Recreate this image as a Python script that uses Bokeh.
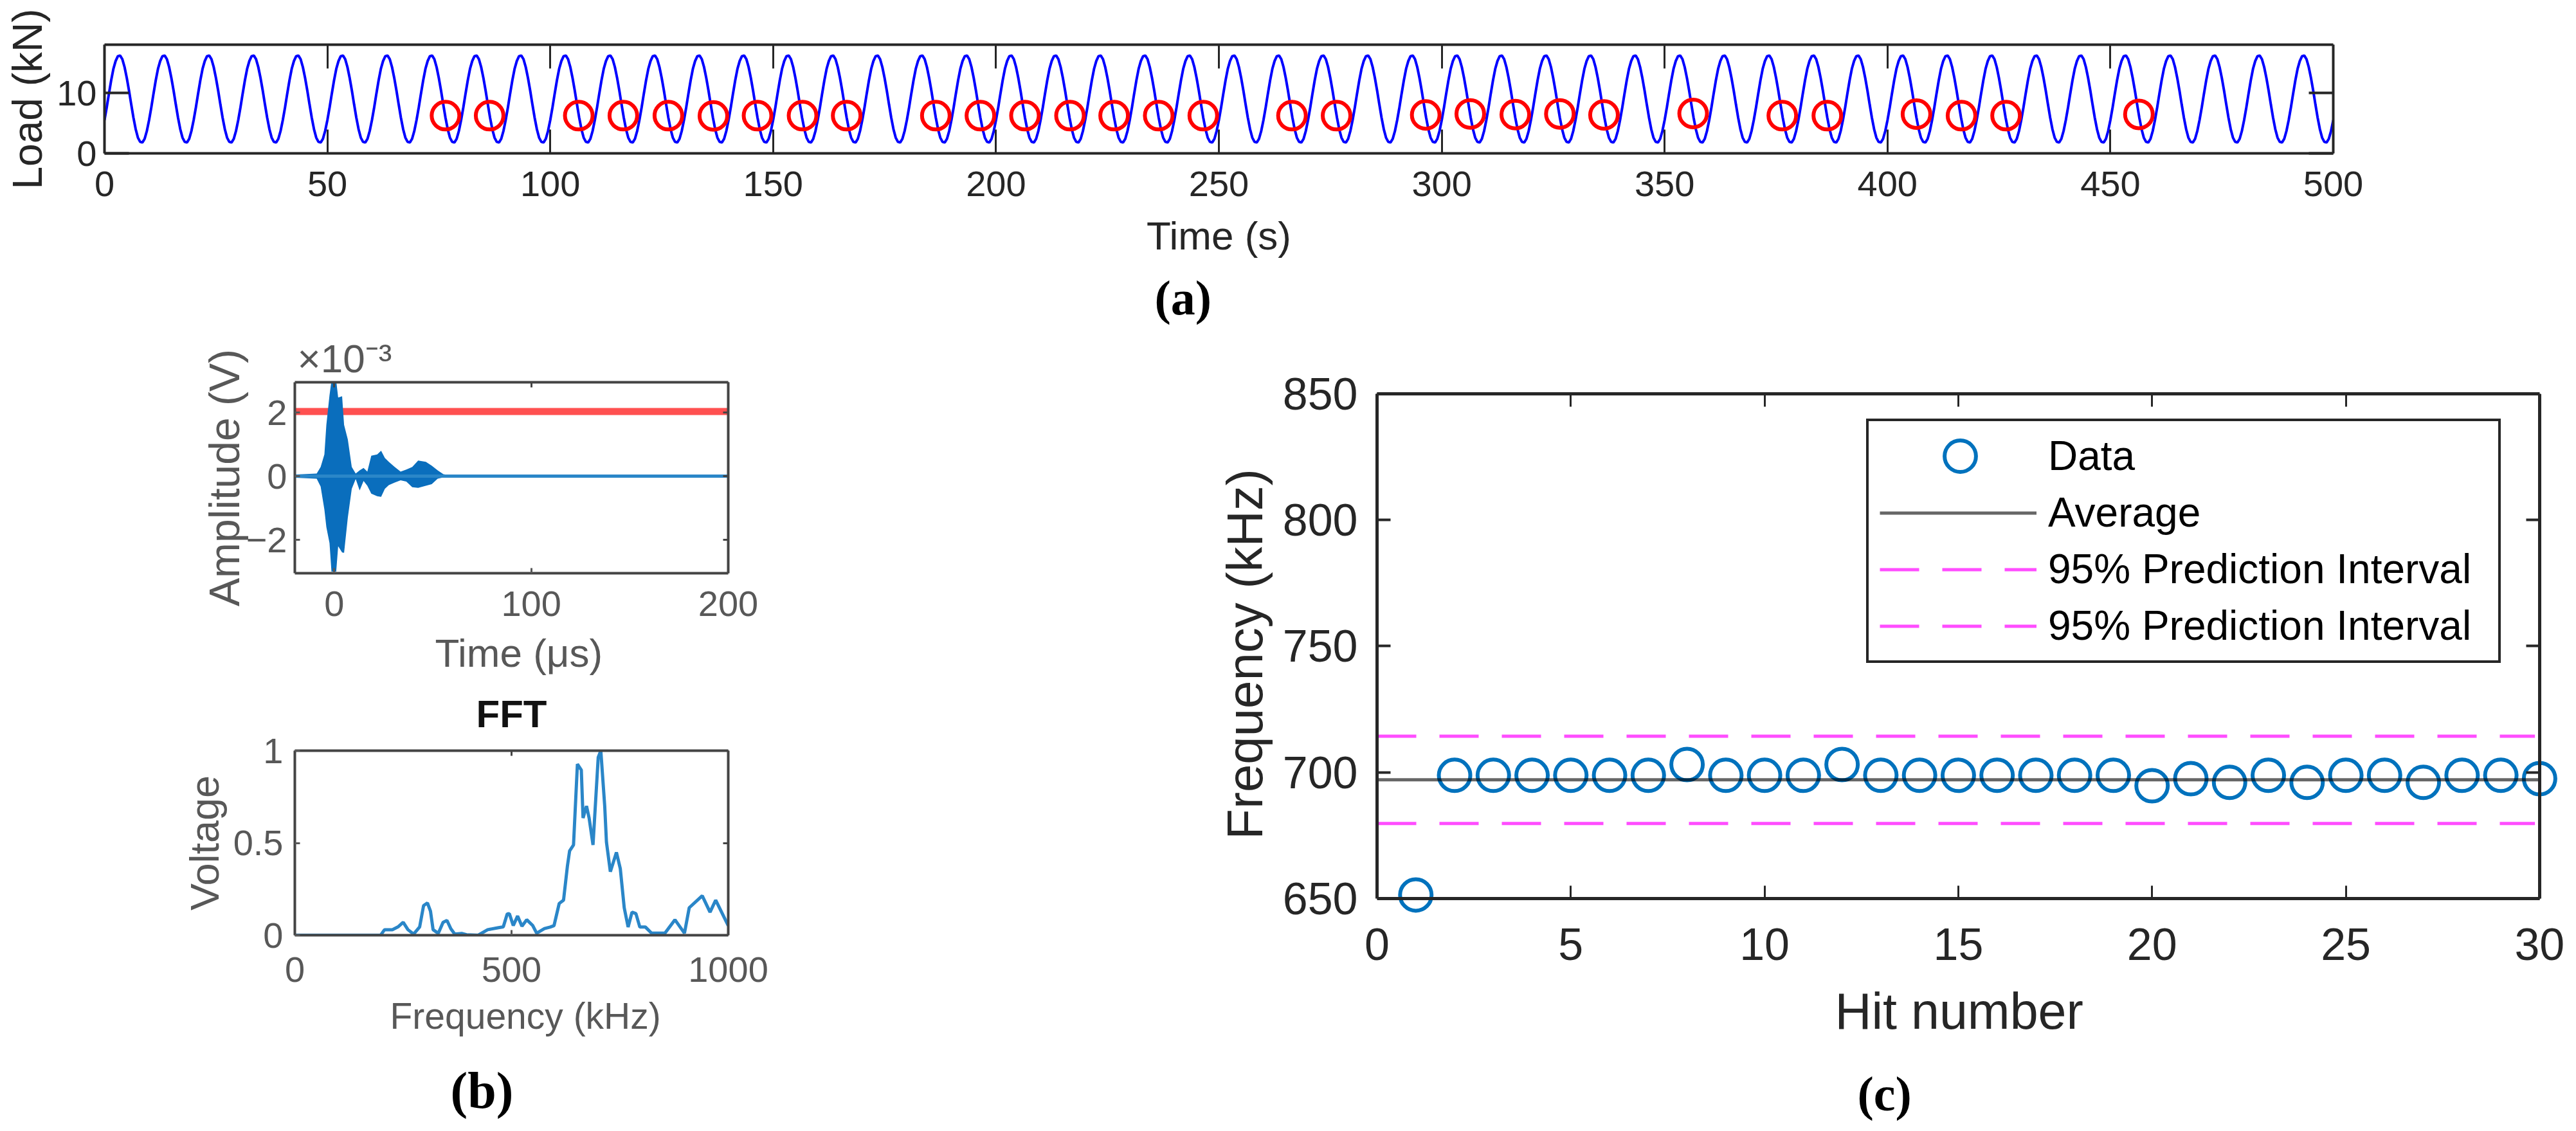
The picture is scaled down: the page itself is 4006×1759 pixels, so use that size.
from bokeh.plotting import figure
from bokeh.layouts import column, row
from bokeh.models import (Range1d, FixedTicker, LinearAxis, Legend, LegendItem, Title)
from bokeh.embed import file_html
from bokeh.resources import INLINE

# ---------- panel (a): load history ----------
LOAD_STEP_S = 0.5
load_kn = [
5.5,7.6,9.9,12.1,14.0,15.3,16.1,16.2,15.6,14.3,12.5,10.4,8.1,5.9,4.0,2.6,1.9,1.8,2.4,3.7,
5.5,7.6,9.9,12.1,14.0,15.3,16.1,16.2,15.6,14.3,12.5,10.4,8.1,5.9,4.0,2.6,1.9,1.8,2.4,3.7,
5.5,7.6,9.9,12.1,14.0,15.3,16.1,16.2,15.6,14.3,12.5,10.4,8.1,5.9,4.0,2.6,1.9,1.8,2.4,3.7,
5.5,7.6,9.9,12.1,14.0,15.3,16.1,16.2,15.6,14.3,12.5,10.4,8.1,5.9,4.0,2.6,1.9,1.8,2.4,3.7,
5.5,7.6,9.9,12.1,14.0,15.3,16.1,16.2,15.6,14.3,12.5,10.4,8.1,5.9,4.0,2.6,1.9,1.8,2.4,3.7,
5.5,7.6,9.9,12.1,14.0,15.3,16.1,16.2,15.6,14.3,12.5,10.4,8.1,5.9,4.0,2.6,1.9,1.8,2.4,3.7,
5.5,7.6,9.9,12.1,14.0,15.3,16.1,16.2,15.6,14.3,12.5,10.4,8.1,5.9,4.0,2.6,1.9,1.8,2.4,3.7,
5.5,7.6,9.9,12.1,14.0,15.3,16.1,16.2,15.6,14.3,12.5,10.4,8.1,5.9,4.0,2.6,1.9,1.8,2.4,3.7,
5.5,7.6,9.9,12.1,14.0,15.3,16.1,16.2,15.6,14.3,12.5,10.4,8.1,5.9,4.0,2.6,1.9,1.8,2.4,3.7,
5.5,7.6,9.9,12.1,14.0,15.3,16.1,16.2,15.6,14.3,12.5,10.4,8.1,5.9,4.0,2.6,1.9,1.8,2.4,3.7,
5.5,7.6,9.9,12.1,14.0,15.3,16.1,16.2,15.6,14.3,12.5,10.4,8.1,5.9,4.0,2.6,1.9,1.8,2.4,3.7,
5.5,7.6,9.9,12.1,14.0,15.3,16.1,16.2,15.6,14.3,12.5,10.4,8.1,5.9,4.0,2.6,1.9,1.8,2.4,3.7,
5.5,7.6,9.9,12.1,14.0,15.3,16.1,16.2,15.6,14.3,12.5,10.4,8.1,5.9,4.0,2.6,1.9,1.8,2.4,3.7,
5.5,7.6,9.9,12.1,14.0,15.3,16.1,16.2,15.6,14.3,12.5,10.4,8.1,5.9,4.0,2.6,1.9,1.8,2.4,3.7,
5.5,7.6,9.9,12.1,14.0,15.3,16.1,16.2,15.6,14.3,12.5,10.4,8.1,5.9,4.0,2.6,1.9,1.8,2.4,3.7,
5.5,7.6,9.9,12.1,14.0,15.3,16.1,16.2,15.6,14.3,12.5,10.4,8.1,5.9,4.0,2.6,1.9,1.8,2.4,3.7,
5.5,7.6,9.9,12.1,14.0,15.3,16.1,16.2,15.6,14.3,12.5,10.4,8.1,5.9,4.0,2.6,1.9,1.8,2.4,3.7,
5.5,7.6,9.9,12.1,14.0,15.3,16.1,16.2,15.6,14.3,12.5,10.4,8.1,5.9,4.0,2.6,1.9,1.8,2.4,3.7,
5.5,7.6,9.9,12.1,14.0,15.3,16.1,16.2,15.6,14.3,12.5,10.4,8.1,5.9,4.0,2.6,1.9,1.8,2.4,3.7,
5.5,7.6,9.9,12.1,14.0,15.3,16.1,16.2,15.6,14.3,12.5,10.4,8.1,5.9,4.0,2.6,1.9,1.8,2.4,3.7,
5.5,7.6,9.9,12.1,14.0,15.3,16.1,16.2,15.6,14.3,12.5,10.4,8.1,5.9,4.0,2.6,1.9,1.8,2.4,3.7,
5.5,7.6,9.9,12.1,14.0,15.3,16.1,16.2,15.6,14.3,12.5,10.4,8.1,5.9,4.0,2.6,1.9,1.8,2.4,3.7,
5.5,7.6,9.9,12.1,14.0,15.3,16.1,16.2,15.6,14.3,12.5,10.4,8.1,5.9,4.0,2.6,1.9,1.8,2.4,3.7,
5.5,7.6,9.9,12.1,14.0,15.3,16.1,16.2,15.6,14.3,12.5,10.4,8.1,5.9,4.0,2.6,1.9,1.8,2.4,3.7,
5.5,7.6,9.9,12.1,14.0,15.3,16.1,16.2,15.6,14.3,12.5,10.4,8.1,5.9,4.0,2.6,1.9,1.8,2.4,3.7,
5.5,7.6,9.9,12.1,14.0,15.3,16.1,16.2,15.6,14.3,12.5,10.4,8.1,5.9,4.0,2.6,1.9,1.8,2.4,3.7,
5.5,7.6,9.9,12.1,14.0,15.3,16.1,16.2,15.6,14.3,12.5,10.4,8.1,5.9,4.0,2.6,1.9,1.8,2.4,3.7,
5.5,7.6,9.9,12.1,14.0,15.3,16.1,16.2,15.6,14.3,12.5,10.4,8.1,5.9,4.0,2.6,1.9,1.8,2.4,3.7,
5.5,7.6,9.9,12.1,14.0,15.3,16.1,16.2,15.6,14.3,12.5,10.4,8.1,5.9,4.0,2.6,1.9,1.8,2.4,3.7,
5.5,7.6,9.9,12.1,14.0,15.3,16.1,16.2,15.6,14.3,12.5,10.4,8.1,5.9,4.0,2.6,1.9,1.8,2.4,3.7,
5.5,7.6,9.9,12.1,14.0,15.3,16.1,16.2,15.6,14.3,12.5,10.4,8.1,5.9,4.0,2.6,1.9,1.8,2.4,3.7,
5.5,7.6,9.9,12.1,14.0,15.3,16.1,16.2,15.6,14.3,12.5,10.4,8.1,5.9,4.0,2.6,1.9,1.8,2.4,3.7,
5.5,7.6,9.9,12.1,14.0,15.3,16.1,16.2,15.6,14.3,12.5,10.4,8.1,5.9,4.0,2.6,1.9,1.8,2.4,3.7,
5.5,7.6,9.9,12.1,14.0,15.3,16.1,16.2,15.6,14.3,12.5,10.4,8.1,5.9,4.0,2.6,1.9,1.8,2.4,3.7,
5.5,7.6,9.9,12.1,14.0,15.3,16.1,16.2,15.6,14.3,12.5,10.4,8.1,5.9,4.0,2.6,1.9,1.8,2.4,3.7,
5.5,7.6,9.9,12.1,14.0,15.3,16.1,16.2,15.6,14.3,12.5,10.4,8.1,5.9,4.0,2.6,1.9,1.8,2.4,3.7,
5.5,7.6,9.9,12.1,14.0,15.3,16.1,16.2,15.6,14.3,12.5,10.4,8.1,5.9,4.0,2.6,1.9,1.8,2.4,3.7,
5.5,7.6,9.9,12.1,14.0,15.3,16.1,16.2,15.6,14.3,12.5,10.4,8.1,5.9,4.0,2.6,1.9,1.8,2.4,3.7,
5.5,7.6,9.9,12.1,14.0,15.3,16.1,16.2,15.6,14.3,12.5,10.4,8.1,5.9,4.0,2.6,1.9,1.8,2.4,3.7,
5.5,7.6,9.9,12.1,14.0,15.3,16.1,16.2,15.6,14.3,12.5,10.4,8.1,5.9,4.0,2.6,1.9,1.8,2.4,3.7,
5.5,7.6,9.9,12.1,14.0,15.3,16.1,16.2,15.6,14.3,12.5,10.4,8.1,5.9,4.0,2.6,1.9,1.8,2.4,3.7,
5.5,7.6,9.9,12.1,14.0,15.3,16.1,16.2,15.6,14.3,12.5,10.4,8.1,5.9,4.0,2.6,1.9,1.8,2.4,3.7,
5.5,7.6,9.9,12.1,14.0,15.3,16.1,16.2,15.6,14.3,12.5,10.4,8.1,5.9,4.0,2.6,1.9,1.8,2.4,3.7,
5.5,7.6,9.9,12.1,14.0,15.3,16.1,16.2,15.6,14.3,12.5,10.4,8.1,5.9,4.0,2.6,1.9,1.8,2.4,3.7,
5.5,7.6,9.9,12.1,14.0,15.3,16.1,16.2,15.6,14.3,12.5,10.4,8.1,5.9,4.0,2.6,1.9,1.8,2.4,3.7,
5.5,7.6,9.9,12.1,14.0,15.3,16.1,16.2,15.6,14.3,12.5,10.4,8.1,5.9,4.0,2.6,1.9,1.8,2.4,3.7,
5.5,7.6,9.9,12.1,14.0,15.3,16.1,16.2,15.6,14.3,12.5,10.4,8.1,5.9,4.0,2.6,1.9,1.8,2.4,3.7,
5.5,7.6,9.9,12.1,14.0,15.3,16.1,16.2,15.6,14.3,12.5,10.4,8.1,5.9,4.0,2.6,1.9,1.8,2.4,3.7,
5.5,7.6,9.9,12.1,14.0,15.3,16.1,16.2,15.6,14.3,12.5,10.4,8.1,5.9,4.0,2.6,1.9,1.8,2.4,3.7,
5.5,7.6,9.9,12.1,14.0,15.3,16.1,16.2,15.6,14.3,12.5,10.4,8.1,5.9,4.0,2.6,1.9,1.8,2.4,3.7,
5.5]
load_time = [i * LOAD_STEP_S for i in range(len(load_kn))]

hit_time = [76.5, 86.4, 106.4, 116.4, 126.5, 136.6, 146.5, 156.6, 166.5, 186.5, 196.5, 206.5,
            216.6, 226.5, 236.5, 246.5, 266.4, 276.4, 296.4, 306.4, 316.5, 326.5, 336.4,
            356.4, 376.4, 386.5, 406.5, 416.6, 426.6, 456.4]
hit_load = [6.25, 6.25, 6.25, 6.25, 6.25, 6.2, 6.25, 6.25, 6.25, 6.25, 6.25, 6.25,
            6.25, 6.25, 6.25, 6.25, 6.25, 6.25, 6.36, 6.53, 6.42, 6.53, 6.36,
            6.6, 6.25, 6.25, 6.5, 6.25, 6.25, 6.45]
a_xticks = [0, 50, 100, 150, 200, 250, 300, 350, 400, 450, 500]
a_yticks = [0, 10]

# ---------- panel (b), top: waveform envelope ----------
wave_t = [-19.8, -8.9, -6.9, -5, -4, -2.4, -1.4, 1, 2, 4, 5, 6.9, 8.9, 10.9, 12.9, 14.9, 16.8,
          18.8, 21.8, 23.8, 25.7, 27.7, 30.7, 33.7, 36.6, 39.6, 42.6, 46.5, 49.5, 52.5, 55.4, 59.4, 200]
wave_hi = [0.05, 0.08, 0.29, 0.68, 1.61, 2.54, 3.0, 3.0, 2.47, 2.51, 1.61, 1.15, 0.29, 0.08, 0.18,
           0.26, 0.14, 0.64, 0.68, 0.80, 0.57, 0.45, 0.29, 0.14, 0.21, 0.29, 0.49, 0.45, 0.33, 0.18,
           0.06, 0.02, 0.0]
wave_lo = [-0.05, -0.08, -0.33, -1.05, -1.6, -2.1, -3.0, -3.0, -2.2, -2.4, -2.41, -1.3, -0.4, -0.09,
           -0.45, -0.15, -0.3, -0.55, -0.63, -0.65, -0.4, -0.28, -0.2, -0.13, -0.17, -0.35, -0.37,
           -0.3, -0.25, -0.08, -0.04, -0.02, 0.0]
wave_base_t = [-20, 200]
wave_base_v = [0, 0]
threshold_t = [-20, 200]
threshold_v = [2.03, 2.03]
b1_xticks = [0, 100, 200]
b1_yticks = [-2, 0, 2]

# ---------- panel (b), bottom: FFT ----------
fft_f = [0, 198, 207, 225, 238, 250, 261, 274, 288, 297, 306, 313, 319, 331, 342, 351, 360, 369, 385,
         396, 423, 445, 468, 481, 490, 495, 504, 514, 524, 535, 549, 558, 576, 589, 598, 610, 620, 629,
         634, 643, 652, 661, 665, 673, 679, 688, 700, 706, 715, 719, 728, 742, 751, 760, 769, 778, 787,
         796, 809, 823, 854, 877, 899, 910, 940, 958, 971, 1000]
fft_v = [0, 0, 0.03, 0.03, 0.045, 0.07, 0.03, 0.006, 0.045, 0.16, 0.175, 0.13, 0.03, 0.01, 0.07, 0.08,
         0.035, 0.006, 0.01, 0.003, 0, 0.03, 0.04, 0.045, 0.115, 0.117, 0.052, 0.104, 0.049, 0.084, 0.052,
         0.011, 0.036, 0.044, 0.052, 0.172, 0.19, 0.376, 0.457, 0.489, 0.927, 0.895, 0.635, 0.70, 0.635,
         0.489, 0.964, 1.0, 0.70, 0.505, 0.344, 0.449, 0.36, 0.149, 0.044, 0.125, 0.117, 0.044, 0.044,
         0.011, 0.011, 0.084, 0.011, 0.149, 0.214, 0.125, 0.19, 0.052]
b2_xticks = [0, 500, 1000]
b2_yticks = [0, 0.5, 1]

# ---------- panel (c): frequency per hit ----------
hit_number = list(range(1, 31))
hit_freq = [651.4, 698.8, 698.8, 698.8, 698.8, 698.8, 698.8, 703.1, 698.8, 698.8, 698.8, 703.1,
            698.8, 698.8, 698.8, 698.8, 698.8, 698.8, 698.8, 694.7, 697.5, 696.0, 698.8, 696.0,
            698.8, 698.8, 696.0, 698.8, 698.8, 697.5]
avg_x = [0, 30]
avg_y = [697.06, 697.06]
pi_x = [0, 29.88]
pi_hi = [714.3, 714.3]
pi_lo = [679.7, 679.7]
c_xticks = [0, 5, 10, 15, 20, 25, 30]
c_yticks = [650, 700, 750, 800, 850]
legend_labels = ["Data", "Average", "95% Prediction Interval", "95% Prediction Interval"]

SANS = "Liberation Sans"
SERIF = "Liberation Serif"


def make(width, height, left, top, fw, fh, xr, yr, **kw):
    p = figure(width=width, height=height, frame_width=fw, frame_height=fh,
               min_border_left=left, min_border_top=top,
               min_border_right=width - left - fw, min_border_bottom=height - top - fh,
               x_range=Range1d(*xr), y_range=Range1d(*yr),
               output_backend="svg", toolbar_location=None, **kw)
    p.grid.visible = False
    p.outline_line_color = None
    p.border_fill_color = None
    p.background_fill_color = "white"
    return p


def style_axis(ax, ticks, size, color, lw, tick_w, tick_len, standoff, label_size=None, label_standoff=0,
               overrides=None, bounds=None):
    ax.ticker = FixedTicker(ticks=ticks)
    ax.minor_tick_line_color = None
    ax.axis_line_color = color
    ax.axis_line_width = lw
    ax.major_tick_line_color = color
    ax.major_tick_line_width = tick_w
    ax.major_tick_in = tick_len
    ax.major_tick_out = 0
    ax.major_label_text_font = SANS
    ax.major_label_text_font_size = f"{size}px"
    ax.major_label_text_color = color
    ax.major_label_standoff = standoff
    if label_size:
        ax.axis_label_text_font = SANS
        ax.axis_label_text_font_size = f"{label_size}px"
        ax.axis_label_text_font_style = "normal"
        ax.axis_label_text_color = color
        ax.axis_label_standoff = label_standoff
    if overrides:
        ax.major_label_overrides = overrides
    if bounds:
        ax.bounds = bounds


def mirror(p, side, ticks, color, lw, tick_w, tick_len, bounds=None, fixed=None):
    ax = LinearAxis()
    style_axis(ax, ticks, 1, color, lw, tick_w, tick_len, 0, overrides={t: "" for t in ticks}, bounds=bounds)
    if fixed is not None:
        ax.fixed_location = fixed
    p.add_layout(ax, side)


def under_title(p, text, offset, standoff, size, color):
    """A caption below the x axis, placed by its left edge (axis labels can only sit at the frame centre)."""
    p.add_layout(Title(text=text, text_font=SANS, text_font_size=f"{size}px", text_font_style="normal",
                       text_color=color, align="left", offset=offset, standoff=standoff), "below")


def panel_tag(p, text, offset, standoff, size=76):
    p.add_layout(Title(text=text, text_font=SERIF, text_font_size=f"{size}px", text_font_style="bold",
                       text_color="black", align="left", offset=offset, standoff=standoff), "below")


# ---------- (a) ----------
DARK = "#262626"
pa = make(3998, 522, 162, 69, 3466, 169, (0, 500), (0, 18))
style_axis(pa.xaxis[0], a_xticks, 56, DARK, 4, 3, 37, 28, 62, 24)
style_axis(pa.yaxis[0], a_yticks, 56, DARK, 4, 4, 38, 12, 64, 6)
pa.xaxis[0].axis_label = "Time (s)"
pa.yaxis[0].axis_label = "Load (kN)"
mirror(pa, "above", a_xticks, DARK, 4, 3, 37)
mirror(pa, "right", a_yticks, DARK, 4, 4, 38)
pa.line(load_time, load_kn, line_color="#0000FF", line_width=4)
pa.scatter(hit_time, hit_load, marker="circle", size=43, fill_color=None, line_color="#FF0000", line_width=6)
panel_tag(pa, "(a)", 1795 - 162, 30)

# ---------- (b) top ----------
GREY = "#585858"
FRAME = "#444444"
b1 = make(1308, 570, 458, 84, 674, 297, (-20, 200), (-3.05, 2.95))
style_axis(b1.xaxis[0], b1_xticks, 56, GREY, 4, 3, 8, 28)
style_axis(b1.yaxis[0], b1_yticks, 56, GREY, 4, 3, 8, 12, 66, -6, overrides={-2: "\u22122"})
b1.xaxis[0].axis_line_color = FRAME
b1.yaxis[0].axis_line_color = FRAME
b1.yaxis[0].axis_label = "Amplitude (V)"
mirror(b1, "above", b1_xticks, FRAME, 4, 3, 8)
mirror(b1, "right", b1_yticks, FRAME, 4, 3, 8)
under_title(b1, "Time (\u03bcs)", 676 - 458, 37, 62, GREY)
b1.add_layout(Title(text="\u00d710\u207b\u00b3", text_font=SANS, text_font_size="62px", text_font_style="normal",
                    text_color=GREY, align="left", offset=4, standoff=6), "above")
b1.line(threshold_t, threshold_v, line_color="#FF5050", line_width=11)
b1.varea(x=wave_t, y1=wave_lo, y2=wave_hi, fill_color="#0A6EBD")
b1.line(wave_base_t, wave_base_v, line_color="#2A86C8", line_width=5)

# ---------- (b) bottom ----------
b2 = make(1308, 702, 458, 118, 674, 287, (0, 1000), (0, 1), title="FFT")
b2.margin = (-31, 0, 0, 0)  # the FFT heading reaches up into the blank foot of the waveform figure
b2.title.align = "center"
b2.title.text_font = SANS
b2.title.text_font_size = "60px"
b2.title.text_font_style = "bold"
b2.title.text_color = "#111111"
b2.title.standoff = 48
style_axis(b2.xaxis[0], b2_xticks, 56, GREY, 4, 3, 8, 34)
style_axis(b2.yaxis[0], b2_yticks, 56, GREY, 4, 3, 8, 18, 63, 7, overrides={0.5: "0.5", 1: "1", 0: "0"})
b2.xaxis[0].axis_line_color = FRAME
b2.yaxis[0].axis_line_color = FRAME
b2.yaxis[0].axis_label = "Voltage"
mirror(b2, "above", b2_xticks, FRAME, 4, 3, 8)
mirror(b2, "right", b2_yticks, FRAME, 4, 3, 8)
under_title(b2, "Frequency (kHz)", 606 - 458, 32, 57, GREY)
panel_tag(b2, "(b)", 700 - 458, 45, size=80)
b2.line(fft_f, fft_v, line_color="#2A86C8", line_width=5)

# ---------- (c) ----------
# The frame runs a little past the axes so the first and last rings are not cut at the axis lines.
pc = make(2690, 1241, 833, 102, 1838, 810, (0, 30.5), (643.6, 850))
style_axis(pc.xaxis[0], c_xticks, 70, DARK, 4, 3, 20, 21, bounds=(0, 30))
pc.xaxis[0].axis_line_color = None
pc.xaxis[0].major_tick_line_color = None
style_axis(pc.yaxis[0], c_yticks, 70, DARK, 5, 4, 21, 30, 78, 12, bounds=(650, 850))
pc.yaxis[0].axis_label = "Frequency (kHz)"
mirror(pc, "below", c_xticks, DARK, 5, 3, 20, bounds=(0, 30), fixed=650)
mirror(pc, "above", c_xticks, DARK, 5, 3, 20, bounds=(0, 30))
mirror(pc, "right", c_yticks, DARK, 5, 4, 21, bounds=(650, 850), fixed=30)
under_title(pc, "Hit number", 2853 - 2141, 60, 79, DARK)
panel_tag(pc, "(c)", 2888 - 2141, 20)

ring = pc.scatter(hit_number, hit_freq, marker="circle", size=49, fill_color=None,
                  line_color="#0072BD", line_width=6)
ring_slot = pc.scatter(hit_number, hit_freq, marker="circle", size=49, fill_alpha=0, line_alpha=0)
avg = pc.line(avg_x, avg_y, line_color="black", line_alpha=0.6, line_width=5)
up = pc.line(pi_x, pi_hi, line_color="#FF4DFF", line_width=5, line_dash=[61, 36])
lo = pc.line(pi_x, pi_lo, line_color="#FF4DFF", line_width=5, line_dash=[61, 36])

main_legend = Legend(
    items=[LegendItem(label=legend_labels[0], renderers=[ring_slot]),
           LegendItem(label=legend_labels[1], renderers=[avg]),
           LegendItem(label=legend_labels[2], renderers=[up]),
           LegendItem(label=legend_labels[3], renderers=[lo])],
    location=(761, 391), padding=17, spacing=14, margin=0,
    glyph_width=244, glyph_height=65, label_height=65, label_standoff=18, label_width=683,
    label_text_font=SANS, label_text_font_size="64px", label_text_color="black",
    border_line_color=DARK, border_line_width=4, border_line_alpha=1,
    background_fill_color="white", background_fill_alpha=1)
pc.add_layout(main_legend)
ring_legend = Legend(
    items=[LegendItem(label=" ", renderers=[ring])],
    location=(846, 652), padding=0, spacing=0, margin=0,
    glyph_width=122, glyph_height=122, label_height=1, label_standoff=0, label_width=1,
    label_text_font_size="1px", border_line_color=None, background_fill_alpha=0)
pc.add_layout(ring_legend)

lower = row(column(b1, b2, spacing=0), pc, spacing=0)
lower.margin = (-12, 0, 0, 0)  # panel (a)'s tag needs a taller canvas than the space it visually occupies
page = column(pa, lower, spacing=0)
open("out.html", "w").write(file_html(page, INLINE))
